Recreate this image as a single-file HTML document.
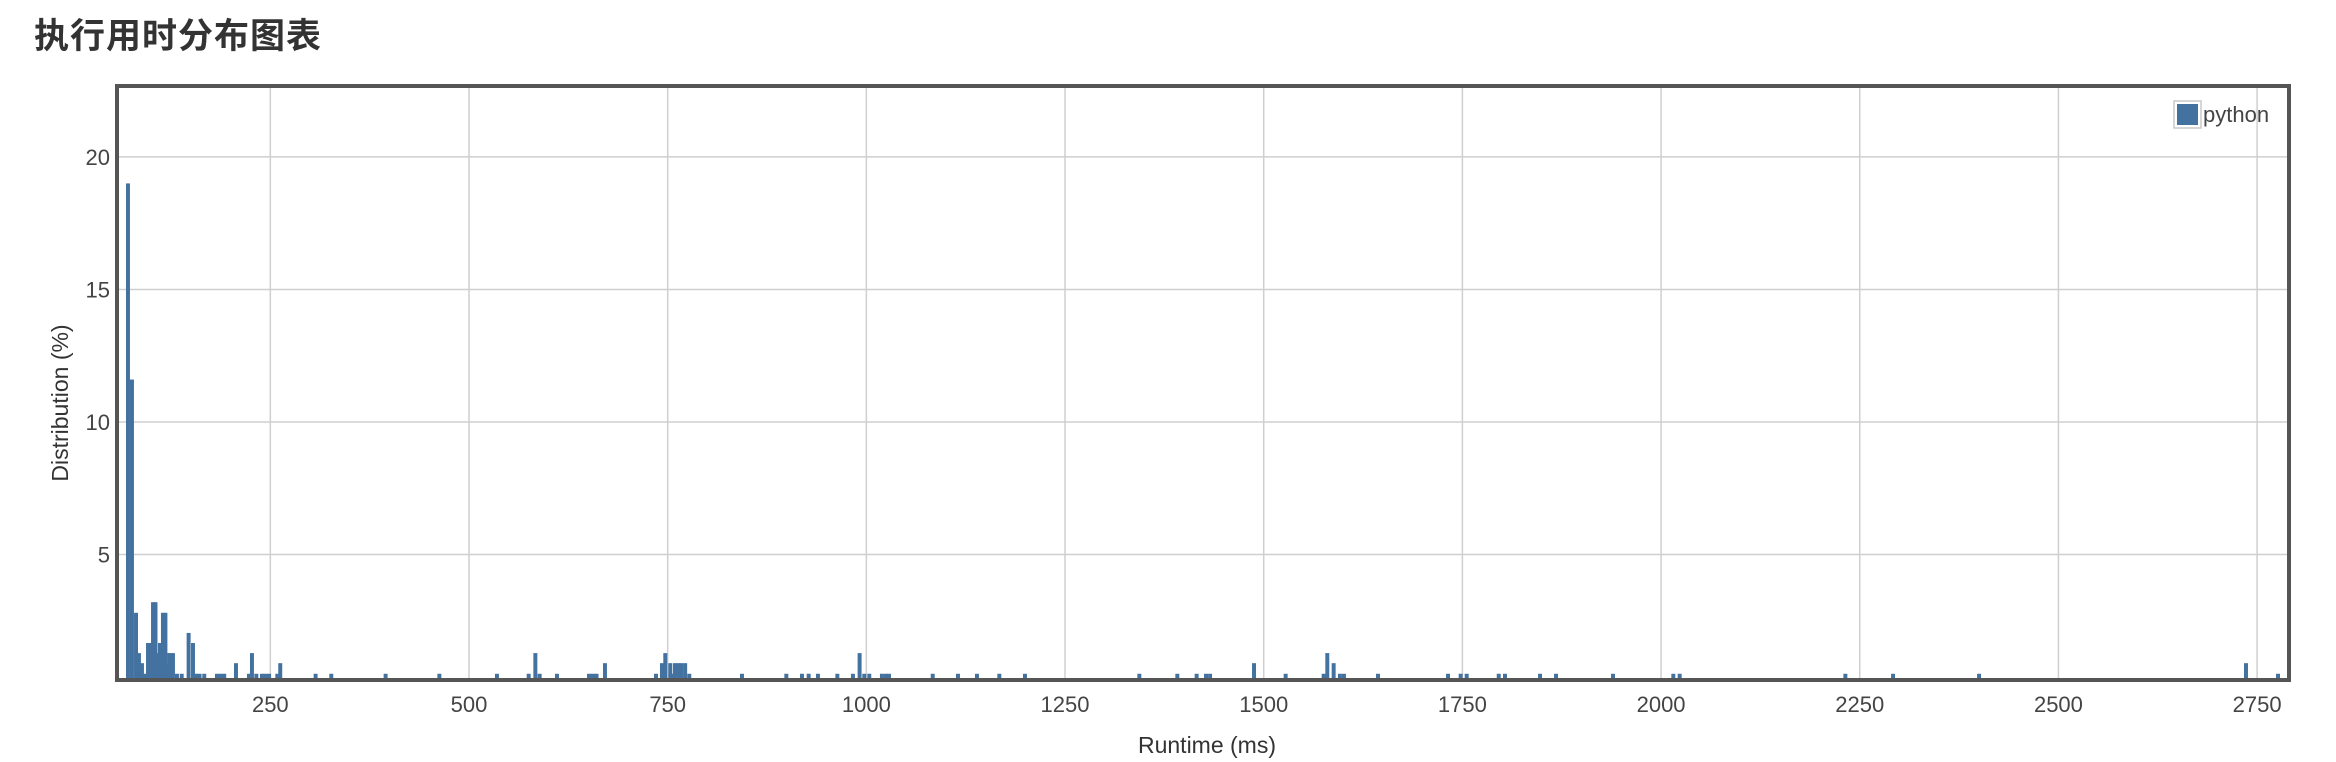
<!DOCTYPE html>
<html><head><meta charset="utf-8">
<style>
html,body{margin:0;padding:0;background:#fff;}
body{width:2336px;height:762px;overflow:hidden;position:relative;font-family:"Liberation Sans","Noto Sans CJK SC",sans-serif;}
#title{position:absolute;left:34px;top:8px;font-size:35px;font-weight:bold;color:#333;letter-spacing:1px;}
</style></head>
<body>
<div id="title">执行用时分布图表</div>
<svg id="chart" width="2336" height="762" style="position:absolute;left:0;top:0"></svg>
<script>
const binStart = [68.4,73.4,78.5,82.2,86,89.8,93.6,96.8,99.9,103,106.1,108.6,112.4,115.5,118.7,120.4,125,130,136,144.7,150.2,154,158.5,164.4,180.4,185,189.5,204.3,220.6,224.4,229.9,237,241.5,246,256.3,260,304.5,324.2,392.6,
460.2,532.7,572.6,581,586.4,608.2,648.5,653.5,658,668.6,732.8,740.3,744.5,750.8,755,756.7,761,763,764.7,769.5,774.7,841,896.8,916.5,924.9,936.6,961,980.6,989,994.9,1001.2,1017.1,1022,1026,
1081,1112.8,1136.7,1164.8,1197.1,1341,1388.8,1413.1,1424.9,1430,1485.3,1525.1,1572.9,1577.5,1585.5,1593.4,1598.5,1641.3,1729.4,1745.3,1752.9,1793.2,1801.1,1845.2,1865.3,1937,2012.9,2020.9,2229.4,2289.4,2397.6,2733.5,2773.8];
const binValues = [19.0,11.6,2.8,1.28,0.9,0.5,1.66,1.66,3.2,3.2,1.28,1.66,2.8,2.8,0.9,1.28,1.28,0.5,0.5,2.04,1.66,0.5,0.5,0.5,0.5,0.5,0.5,0.9,0.5,1.28,0.5,0.5,0.5,0.5,0.5,0.9,0.5,0.5,0.5,
0.5,0.5,0.5,1.28,0.5,0.5,0.5,0.5,0.5,0.9,0.5,0.9,1.28,0.9,0.5,0.9,0.9,0.5,0.9,0.9,0.5,0.5,0.5,0.5,0.5,0.5,0.5,0.5,1.28,0.5,0.5,0.5,0.5,0.5,
0.5,0.5,0.5,0.5,0.5,0.5,0.5,0.5,0.5,0.5,0.9,0.5,0.5,1.28,0.9,0.5,0.5,0.5,0.5,0.5,0.5,0.5,0.5,0.5,0.5,0.5,0.5,0.5,0.5,0.5,0.5,0.9,0.5];
const binWidthMs = 5;
const xTicks = [250,500,750,1000,1250,1500,1750,2000,2250,2500,2750];
const yTicks = [5,10,15,20];
const xDomain = [59.6, 2787.6];
const yDomain = [0.34, 22.6];
const seriesName = "python";

const NS = "http://www.w3.org/2000/svg";
const svg = document.getElementById('chart');
const L=119, R=2287, T=88, B=678;
function xs(v){return L + (v - xDomain[0])/(xDomain[1]-xDomain[0])*(R-L);}
function ys(v){return B - (v - yDomain[0])/(yDomain[1]-yDomain[0])*(B-T);}
function mk(tag, attrs){const e=document.createElementNS(NS,tag);for(const k in attrs)e.setAttribute(k,attrs[k]);svg.appendChild(e);return e;}

xTicks.forEach(t=>{
  const g=mk('line',{x1:xs(t),x2:xs(t),y1:T,y2:B,stroke:'#cfcfcf','stroke-width':1.5});
  
  
  const tx=mk('text',{x:xs(t),y:712,'text-anchor':'middle','font-size':22,fill:'#444','font-family':'Liberation Sans, sans-serif'});
  tx.textContent=t;
  
  
});
yTicks.forEach(t=>{
  const g=mk('line',{x1:L,x2:R,y1:ys(t),y2:ys(t),stroke:'#cfcfcf','stroke-width':1.5});
  
  
  const tx=mk('text',{x:110,y:ys(t)+8,'text-anchor':'end','font-size':22,fill:'#444','font-family':'Liberation Sans, sans-serif'});
  tx.textContent=t;
  
  
});
const clip=mk('clipPath',{id:'pc'});
const cr=document.createElementNS(NS,'rect');cr.setAttribute('x',L);cr.setAttribute('y',T);cr.setAttribute('width',R-L);cr.setAttribute('height',B-T);clip.appendChild(cr);
binStart.forEach((s,i)=>{
  const x0=xs(s), x1=xs(s+binWidthMs), y=ys(binValues[i]);
  const r=mk('rect',{x:x0,y:y,width:Math.max(1,x1-x0),height:B-y+2,fill:'#4472a0','clip-path':'url(#pc)'});
  
  
});
const fr=mk('rect',{x:L-2,y:T-2,width:R-L+4,height:B-T+4,fill:'none',stroke:'#555','stroke-width':4});


const xt=mk('text',{x:1207,y:753,'text-anchor':'middle','font-size':23,fill:'#333','font-family':'Liberation Sans, sans-serif'});
xt.textContent='Runtime (ms)';


const yt=mk('text',{x:0,y:0,'text-anchor':'middle','font-size':23,fill:'#333','font-family':'Liberation Sans, sans-serif',transform:'translate(68,403) rotate(-90)'});
yt.textContent='Distribution (%)';


const lb=mk('rect',{x:2174,y:101,width:27,height:27,fill:'#fff',stroke:'#c8c8c8','stroke-width':1.5});


const ls=mk('rect',{x:2177,y:104,width:21,height:21,fill:'#4472a0'});


const lt=mk('text',{x:2203,y:122,'font-size':22,fill:'#444','font-family':'Liberation Sans, sans-serif'});
lt.textContent=seriesName;


</script>
</body></html>
